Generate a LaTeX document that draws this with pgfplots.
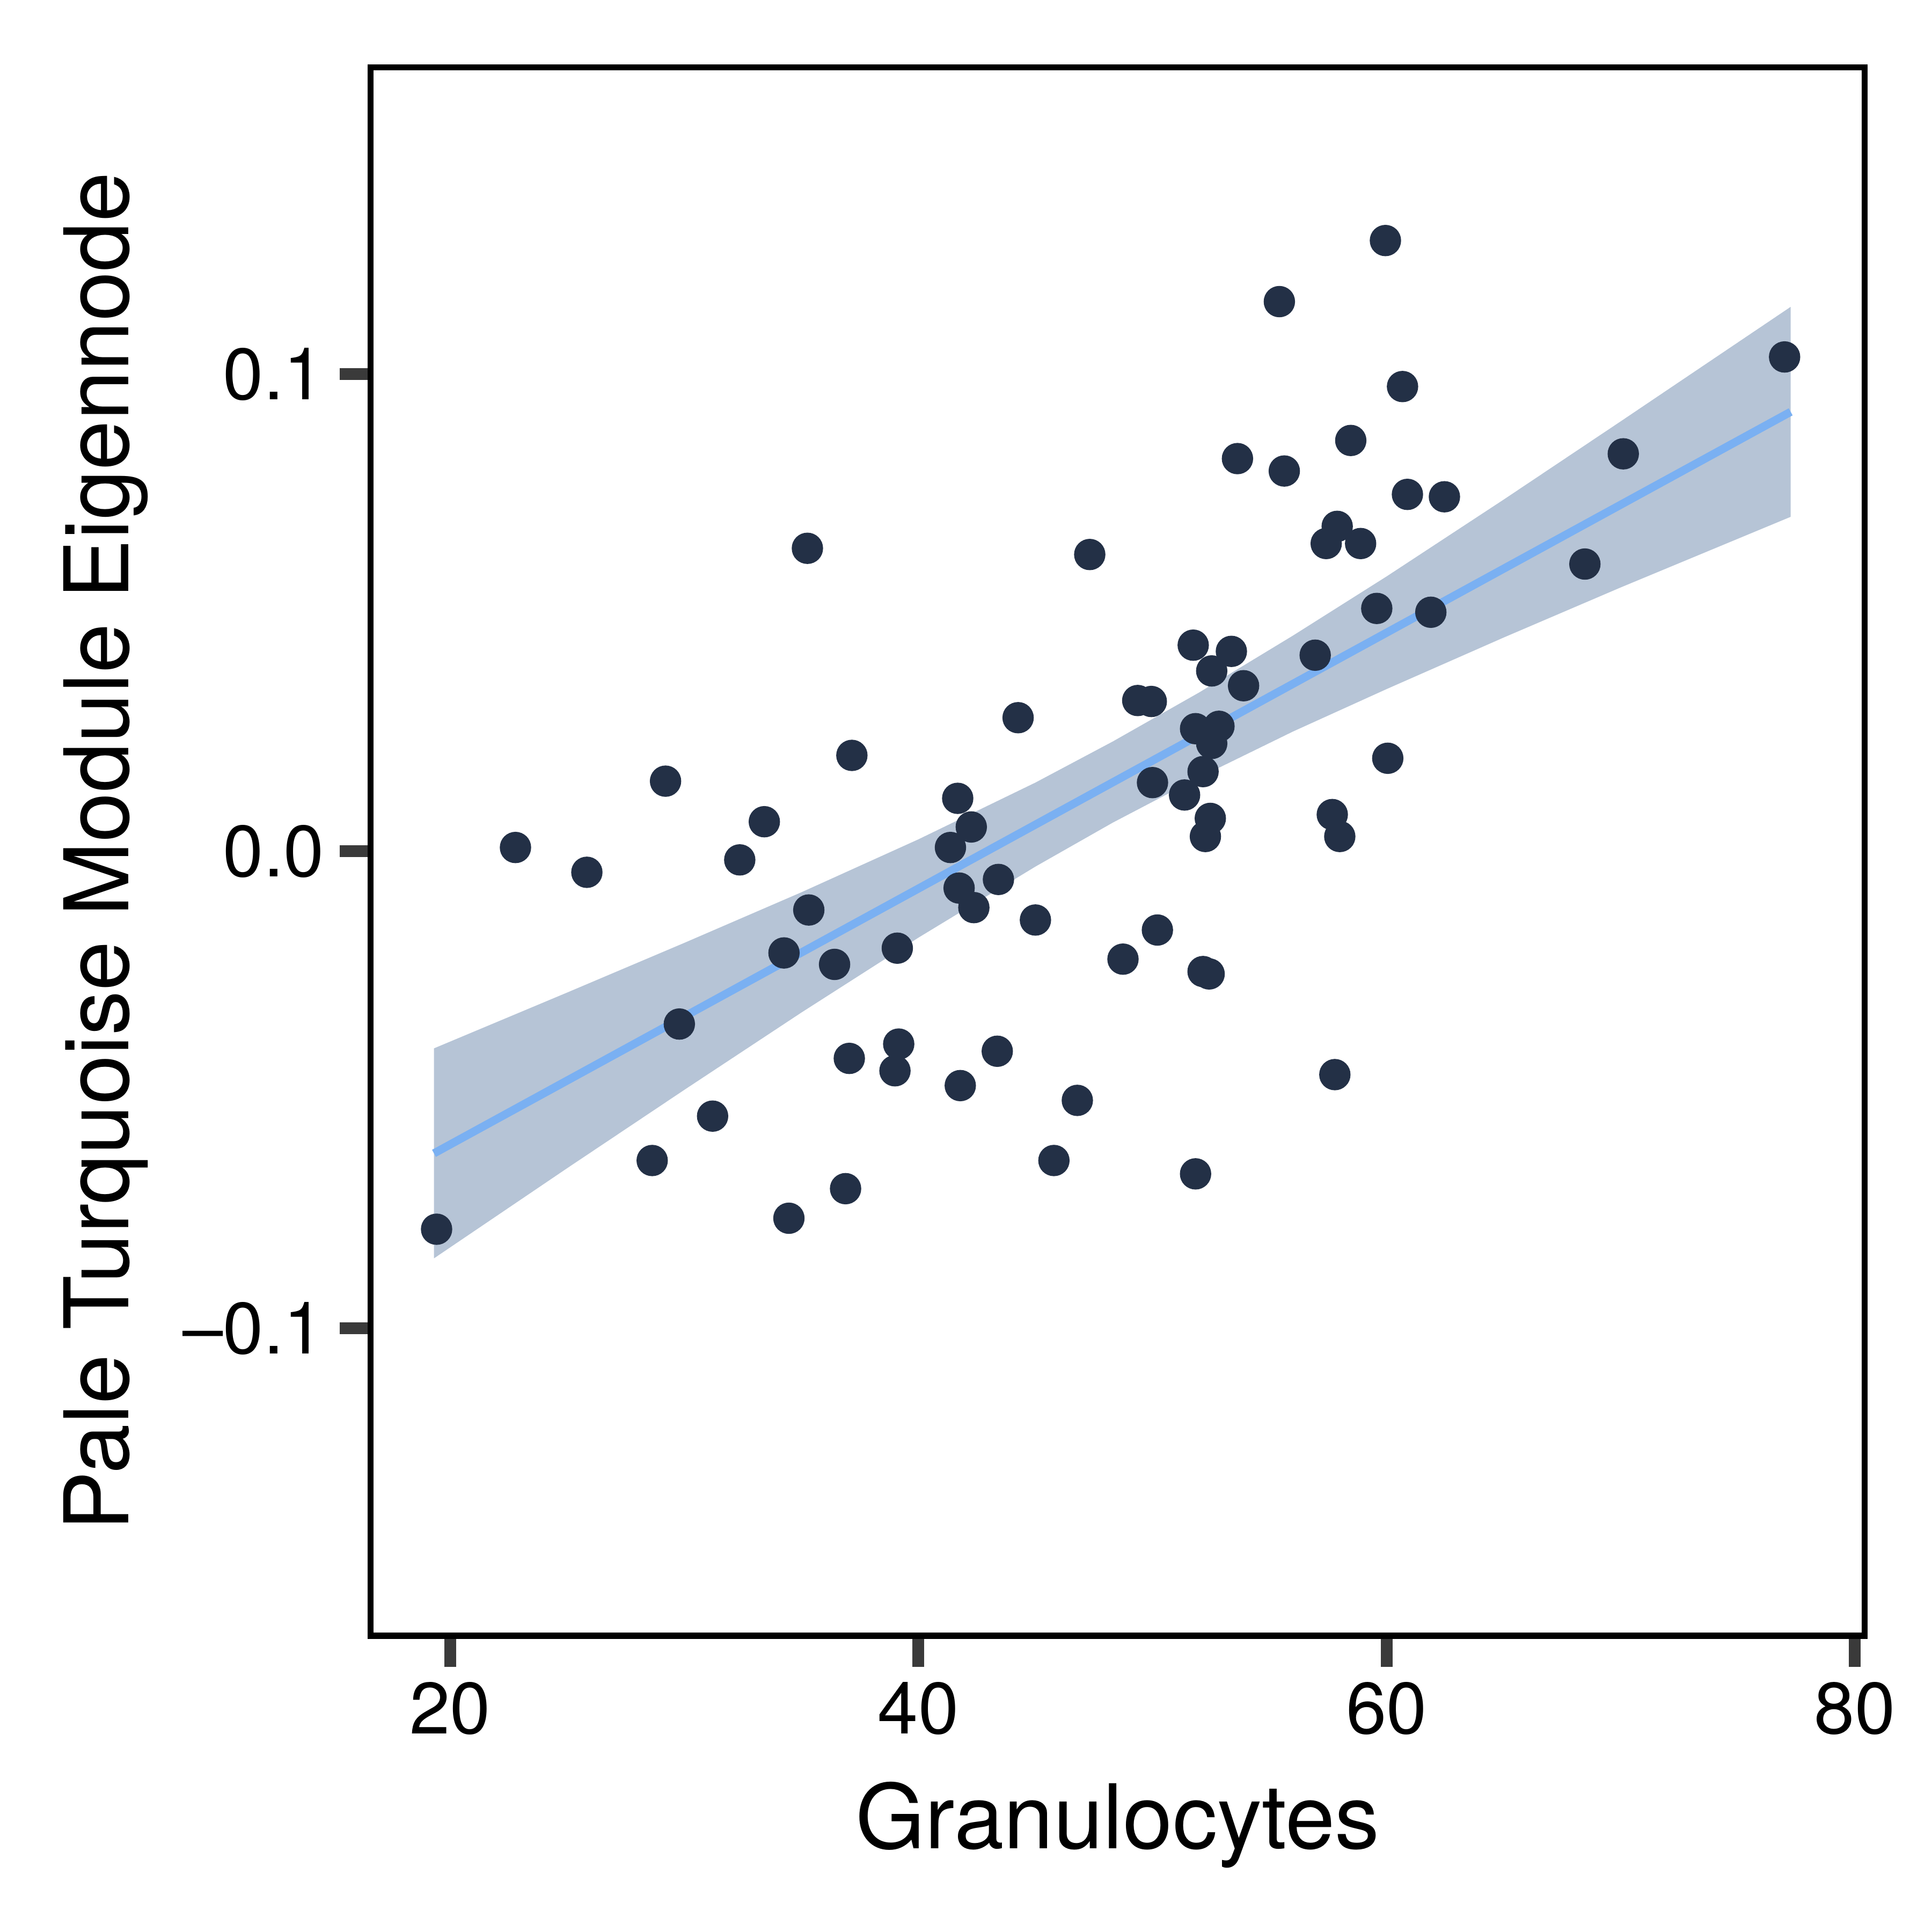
\documentclass[border=0pt]{standalone}
\usepackage{pgfplots}
\pgfplotsset{compat=1.18}
\usepackage{fontspec}
\setmainfont{TeX Gyre Heros}

\definecolor{dotnavy}{RGB}{35,48,70}
\definecolor{bandblue}{RGB}{182,196,214}
\definecolor{fitblue}{RGB}{122,176,242}
\definecolor{tickgray}{RGB}{58,58,58}

\begin{document}
\begin{tikzpicture}
\begin{axis}[
  at={(0,0)}, anchor=south west,
  scale only axis, width=12.064cm, height=12.664cm,
  xmin=16.60, xmax=80.42, ymin=-0.1644, ymax=0.1643,
  xtick={20,40,60,80}, xticklabels={20,40,60,80},
  ytick={-0.1,0,0.1}, yticklabels={–0.1,0.0,0.1},
  tick align=outside, xtick pos=bottom, ytick pos=left,
  major tick length=0.25cm,
  tick style={tickgray, line width=2.7pt},
  axis line style={black, line width=1.36pt},
  ticklabel style={font=\fontsize{16.7}{20}\selectfont},
  xlabel={Granulocytes},
  ylabel={Pale Turquoise Module Eigennode},
  label style={font=\fontsize{20.5}{24}\selectfont},
  xlabel style={at={([yshift=-1.716cm]axis description cs:0.5,0)}, anchor=base},
  ylabel style={at={([xshift=-1.952cm]axis description cs:0,0.5)}, anchor=base},
]
% confidence band
\addplot[fill=bandblue, draw=none] coordinates {
  (19.31,-0.0413) (25,-0.0296) (30,-0.0192) (35,-0.0086) (40,0.0025)
  (45,0.0144) (48.3,0.0230) (52,0.0333) (56,0.0452) (60,0.0576)
  (65,0.0737) (70,0.0901) (77.26,0.1141)
  (77.26,0.0701) (70,0.0553) (65,0.0448) (60,0.0340) (56,0.0251)
  (52,0.0155) (48.3,0.0060) (45,-0.0032) (40,-0.0181) (35,-0.0338)
  (30,-0.0500) (25,-0.0664) (19.31,-0.0853)
};
% fitted line
\addplot[fitblue, line width=1.85pt] coordinates {(19.31,-0.0633) (77.26,0.0921)};
% samples
\addplot[only marks, mark=*, mark size=3.4pt, color=dotnavy] coordinates {
  (22.79,0.0008) (25.84,-0.0044) (29.2,0.0147) (33.42,0.0062) (32.37,-0.0018)
  (35.26,0.0635) (35.32,-0.0123) (34.26,-0.0213) (36.42,-0.0237) (37.16,0.0201)
  (29.79,-0.0362) (31.21,-0.0555) (28.63,-0.0648) (19.42,-0.0792) (34.47,-0.0769)
  (36.89,-0.0707) (37.05,-0.0434) (39.1,-0.0203) (39.16,-0.0404) (39.0,-0.0460)
  (41.79,-0.0491) (41.68,0.0111) (42.26,0.0051) (41.37,0.0008) (41.74,-0.0077)
  (42.37,-0.0118) (43.42,-0.0059) (43.37,-0.0419) (44.26,0.0280) (45.0,-0.0144)
  (45.79,-0.0648) (46.79,-0.0522) (47.32,0.0622) (48.74,-0.0226) (49.37,0.0316)
  (49.95,0.0314) (50.0,0.0144) (50.21,-0.0165) (51.37,0.0118) (51.74,0.0432)
  (51.84,0.0257) (51.84,-0.0676) (52.16,0.0167) (52.26,0.0031) (52.47,0.0069)
  (52.16,-0.0252) (52.42,-0.0257) (52.53,0.0378) (52.53,0.0226) (52.84,0.0262)
  (53.37,0.0419) (53.63,0.0823) (53.89,0.0347) (55.42,0.1152) (55.63,0.0797)
  (56.95,0.0411) (57.42,0.0645) (57.89,0.0681) (58.89,0.0645) (58.47,0.0861)
  (57.68,0.0077) (58.0,0.0031) (57.79,-0.0468) (59.58,0.0509) (59.95,0.1280)
  (60.05,0.0195) (60.68,0.0974) (60.89,0.0748) (61.89,0.0501) (62.47,0.0743)
  (68.47,0.0602) (70.11,0.0833) (77.0,0.1036)
};
\end{axis}
\pgfresetboundingbox
\path[use as bounding box] (-2.992cm,-2.392cm) rectangle (12.608cm,13.208cm);
\end{tikzpicture}
\end{document}
